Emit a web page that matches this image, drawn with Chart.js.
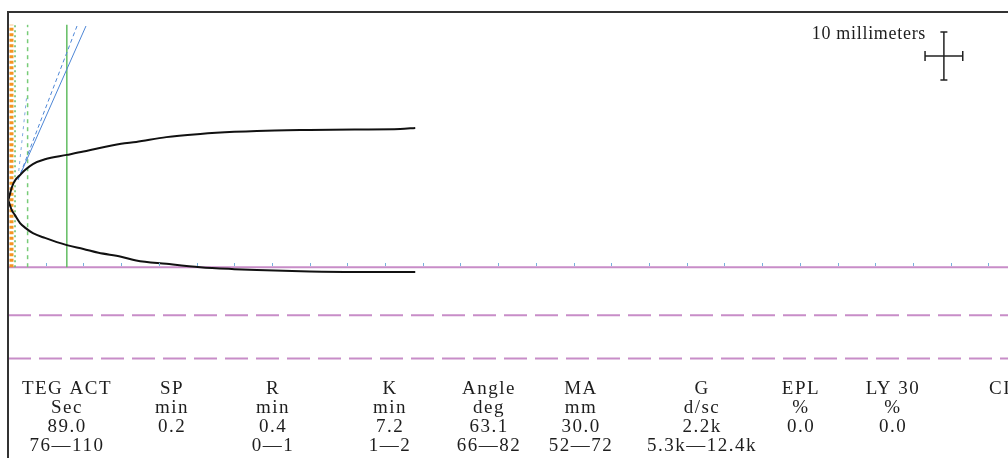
<!DOCTYPE html>
<html><head><meta charset="utf-8">
<script src="https://cdn.jsdelivr.net/npm/chart.js@4.4.1/dist/chart.umd.min.js"></script>
<style>html,body{margin:0;padding:0;background:#fff;overflow:hidden}#wrap{width:1008px;height:458px;position:relative}</style>
</head><body><div id="wrap"><canvas id="c" width="1008" height="458"></canvas></div>
<script>
// ---- data (minutes / millimetres) ----
const traceTime  = [0.02, 0.13, 0.5, 0.9, 1.6, 2.3, 3.3, 4.9, 7.8, 10, 12, 15, 17, 21, 25.5, 30, 33, 40, 46, 52, 54];
const traceUpper = [0, 0.5, 2.6, 4.0, 5.2, 6.3, 7.5, 8.5, 9.4, 10.1, 10.8, 11.7, 12.1, 13.1, 13.75, 14.2, 14.4, 14.6, 14.7, 14.8, 15.0];
const traceLower = [0, 0.5, 2.1, 3.1, 4.8, 5.8, 6.9, 7.9, 9.4, 10.2, 11.0, 11.8, 12.6, 13.3, 14.0, 14.4, 14.6, 14.9, 15.0, 15.0, 15.0];
const markerTimes = [0.46, 0.93, 2.6, 7.8];          // orange R, green dotted, green dashed, green solid
const markerRange = [-14, 36.5];                     // vertical extent of marker lines (mm)
const slopeSolidT = [1.59, 10.34], slopeSolidV = [5.2, 36.25];
const slopeDashT  = [1.33, 9.15],  slopeDashV  = [4.17, 36.25];
const slopeSteepT = [1.33, 2.5],   slopeSteepV = [4.6, 21.9];
const baselineLevel = -14;
const guideLevels = [-24, -33];
const xMax = 132.6, yMin = -53.75, yMax = 39.17;
const tickStep = 5;
const scaleBarCenter = [124.1, 30], scaleBarSpan = [5, 10]; // minutes, mm
const scaleBarLabel = '10 millimeters';
const tableHeads  = ['TEG ACT','SP','R','K','Angle','MA','G','EPL','LY 30','CI'];
const tableUnits  = ['Sec','min','min','min','deg','mm','d/sc','%','%',''];
const tableValues = ['89.0','0.2','0.4','7.2','63.1','30.0','2.2k','0.0','0.0',''];
const tableRanges = ['76\u2014110','','0\u20141','1\u20142','66\u201482','52\u201472','5.3k\u201412.4k','','',''];

// ---- layout (pixels) ----
const colX = [67, 172, 273, 390, 489, 581, 702, 801, 893, 1000];
const rowY = [389, 408, 427, 446];

const pts = (ts, vs, sign=1) => ts.map((t,i)=>({x:t, y:sign*vs[i]}));
const vline = t => [{x:t,y:markerRange[0]},{x:t,y:markerRange[1]}];
const hline = v => [{x:0,y:v},{x:xMax,y:v}];

const PURPLE = '#c88dc8', BLUE = '#4d86d6', GREEN = '#62bd62';
const base = {showLine:true, pointRadius:0, fill:false, tension:0};
const datasets = [
  {...base, label:'upper', data:pts(traceTime, traceUpper), borderColor:'#111', borderWidth:2, cubicInterpolationMode:'monotone'},
  {...base, label:'lower', data:pts(traceTime, traceLower, -1), borderColor:'#111', borderWidth:2, cubicInterpolationMode:'monotone'},
  {...base, label:'slope', data:pts(slopeSolidT, slopeSolidV), borderColor:BLUE, borderWidth:1},
  {...base, label:'slope2', data:pts(slopeDashT, slopeDashV), borderColor:BLUE, borderWidth:1, borderDash:[4,3]},
  {...base, label:'slope3', data:pts(slopeSteepT, slopeSteepV), borderColor:'#7fa8e0', borderWidth:1, borderDash:[3,4]},
  {...base, label:'R', data:vline(markerTimes[0]), borderColor:'#f39422', borderWidth:4, borderDash:[3,2.5]},
  {...base, label:'g1', data:vline(markerTimes[1]), borderColor:GREEN, borderWidth:1.5, borderDash:[2,3]},
  {...base, label:'g2', data:vline(markerTimes[2]), borderColor:'#78cc78', borderWidth:1.5, borderDash:[4,4]},
  {...base, label:'g3', data:vline(markerTimes[3]), borderColor:GREEN, borderWidth:1.5},
  {...base, label:'baseline', data:hline(baselineLevel), borderColor:PURPLE, borderWidth:2},
  ...guideLevels.map(v=>({...base, label:'guide', data:hline(v), borderColor:PURPLE, borderWidth:2, borderDash:[23,8]}))
];

const decor = {
  id:'decor',
  afterDatasetsDraw(chart){
    const {ctx, chartArea:a, scales:{x, y}} = chart;
    ctx.save();
    ctx.strokeStyle = '#78b0dc'; ctx.lineWidth = 1;
    const by = Math.round(y.getPixelForValue(baselineLevel));
    for (let t = tickStep; t < xMax; t += tickStep){
      const px = Math.round(x.getPixelForValue(t)) + 0.5;
      ctx.beginPath(); ctx.moveTo(px, by-1); ctx.lineTo(px, by-4); ctx.stroke();
    }
    ctx.strokeStyle = '#333'; ctx.lineWidth = 2;
    ctx.beginPath(); ctx.moveTo(a.left, a.bottom); ctx.lineTo(a.left, a.top); ctx.lineTo(a.right, a.top); ctx.stroke();
    const cx = x.getPixelForValue(scaleBarCenter[0]), cy = y.getPixelForValue(scaleBarCenter[1]);
    const x0 = x.getPixelForValue(scaleBarCenter[0]-scaleBarSpan[0]/2), x1 = x.getPixelForValue(scaleBarCenter[0]+scaleBarSpan[0]/2);
    const y0 = y.getPixelForValue(scaleBarCenter[1]+scaleBarSpan[1]/2), y1 = y.getPixelForValue(scaleBarCenter[1]-scaleBarSpan[1]/2);
    ctx.strokeStyle = '#222'; ctx.lineWidth = 1.5;
    ctx.beginPath();
    ctx.moveTo(x0, cy); ctx.lineTo(x1, cy);
    ctx.moveTo(cx, y0); ctx.lineTo(cx, y1);
    ctx.moveTo(x0, cy-5); ctx.lineTo(x0, cy+5);
    ctx.moveTo(x1, cy-5); ctx.lineTo(x1, cy+5);
    ctx.moveTo(cx-3.5, y0); ctx.lineTo(cx+3.5, y0);
    ctx.moveTo(cx-3.5, y1); ctx.lineTo(cx+3.5, y1);
    ctx.stroke();
    ctx.fillStyle = '#1e1e1e';
    ctx.font = "18px 'Liberation Serif'";
    ctx.letterSpacing = '0.7px';
    ctx.textBaseline = 'middle';
    ctx.textAlign = 'right';
    ctx.fillText(scaleBarLabel, x0 + 1, y0 + 2);
    ctx.font = "19px 'Liberation Serif'";
    ctx.letterSpacing = '1.5px';
    ctx.textAlign = 'center';
    [tableHeads, tableUnits, tableValues, tableRanges].forEach((row, r)=>{
      row.forEach((s, i)=>{ if (s) ctx.fillText(s, colX[i], rowY[r]); });
    });
    ctx.restore();
  }
};

new Chart(document.getElementById('c'), {
  type:'scatter',
  data:{datasets},
  options:{
    responsive:false, animation:false, devicePixelRatio:1,
    layout:{padding:{left:8, top:12, right:0, bottom:0}},
    plugins:{legend:{display:false}, tooltip:{enabled:false}},
    scales:{
      x:{type:'linear', min:0, max:xMax, display:false},
      y:{type:'linear', min:yMin, max:yMax, display:false}
    }
  },
  plugins:[decor]
});
</script></body></html>
